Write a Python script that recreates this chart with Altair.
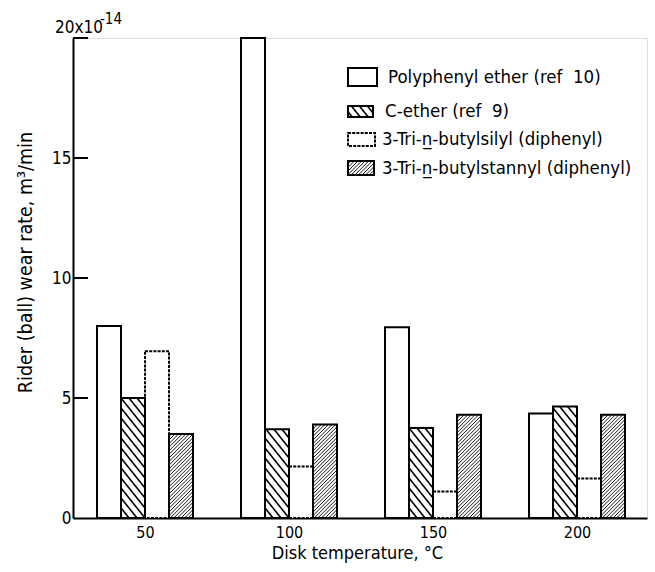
import altair as alt
import pandas as pd
import numpy as np

# ---------------- data ----------------
temps = [50, 100, 150, 200]
series = [
    "Polyphenyl ether (ref\u00a0\u00a010)",
    "C-ether (ref\u00a0\u00a09)",
    "3-Tri-n\u0332-butylsilyl (diphenyl)",
    "3-Tri-n\u0332-butylstannyl (diphenyl)",
]
ppe = [8.0, 20.0, 7.95, 4.35]
cether = [5.0, 3.7, 3.75, 4.65]
silyl = [6.95, 2.15, 1.1, 1.65]
stannyl = [3.5, 3.9, 4.3, 4.3]
y_ticks = [0, 5, 10, 15, 20]

# ---------------- layout / style ----------------
PLOT_W, PLOT_H = 574, 480
XMIN, XMAX = 25.0, 224.3
YMIN, YMAX = 0.0, 20.0
KX = PLOT_W / (XMAX - XMIN)   # px per degC
KY = PLOT_H / (YMAX - YMIN)   # px per unit
BAR_W = 24 / KX               # bar width in degC
FONT = "DejaVu Sans Condensed"
OX, OY = 73, 38  # plot origin on page

values = [ppe, cether, silyl, stannyl]
# hatch style per series: (direction, spacing px, slope)
hatch_style = {1: ("back", 10.0, 1.25), 3: ("fwd", 3.6, 1.0)}

rows = []
for k, s in enumerate(series):
    for i, t in enumerate(temps):
        x0 = t - 2 * BAR_W + k * BAR_W
        rows.append({"series": s, "k": k, "x0": x0, "x1": x0 + BAR_W,
                     "y0": 0.0, "y1": values[k][i]})
bars = pd.DataFrame(rows)


def hatch_segments(u0, u1, v0, v1, step, slope, direction):
    """Diagonal lines clipped to a rectangle, in pixel-equivalent units."""
    segs = []
    if direction == "back":   # v = c - m u
        cmin, cmax = v0 + slope * u0, v1 + slope * u1
        c = np.floor(cmin / step) * step
        while c <= cmax:
            ua = max(u0, (c - v1) / slope)
            ub = min(u1, (c - v0) / slope)
            if ub > ua:
                segs.append((ua, c - slope * ua, ub, c - slope * ub))
            c += step
    else:                     # v = c + m u
        cmin, cmax = v0 - slope * u1, v1 - slope * u0
        c = np.floor(cmin / step) * step
        while c <= cmax:
            ua = max(u0, (v0 - c) / slope)
            ub = min(u1, (v1 - c) / slope)
            if ub > ua:
                segs.append((ua, c + slope * ua, ub, c + slope * ub))
            c += step
    return segs


def from_u(u):
    return u / KX + XMIN


def from_v(v):
    return v / KY + YMIN


hrows = []
for _, r in bars.iterrows():
    if r["k"] in hatch_style:
        d, step, m = hatch_style[r["k"]]
        u0, u1 = (r["x0"] - XMIN) * KX, (r["x1"] - XMIN) * KX
        v0, v1 = (r["y0"] - YMIN) * KY, (r["y1"] - YMIN) * KY
        for (ua, va, ub, vb) in hatch_segments(u0, u1, v0, v1, step, m, d):
            hrows.append({"k": r["k"], "x0": from_u(ua), "y1": from_v(va),
                          "x1": from_u(ub), "y0": from_v(vb)})

# ---------------- legend (pixel layout converted into data space) ----------------
leg_rows_px = [77, 111, 139, 168]
leg_box = [(348, 377, 68, 86), (348, 373, 106, 117), (348, 375, 133, 146), (348, 374, 161, 175)]
leg_text_x = [388, 385, 382, 382]


def px_to_x(px):
    return from_u(px - OX)


def py_to_y(py):
    return from_v(PLOT_H - (py - OY))


lrows, ltext = [], []
for k, s in enumerate(series):
    bx0, bx1, by0, by1 = leg_box[k]
    lrows.append({"k": k, "x0": px_to_x(bx0), "x1": px_to_x(bx1),
                  "y0": py_to_y(by1), "y1": py_to_y(by0)})
    ltext.append({"series": s, "x0": px_to_x(leg_text_x[k]), "y1": py_to_y(leg_rows_px[k])})
    if k in hatch_style:
        d, step, m = hatch_style[k]
        u0, u1 = bx0 - OX, bx1 - OX
        v0, v1 = PLOT_H - (by1 - OY), PLOT_H - (by0 - OY)
        for (ua, va, ub, vb) in hatch_segments(u0, u1, v0, v1, step, m, d):
            hrows.append({"k": k, "x0": from_u(ua), "y1": from_v(va),
                          "x1": from_u(ub), "y0": from_v(vb)})
legend = pd.DataFrame(lrows)
legend_text = pd.DataFrame(ltext)
hatch = pd.DataFrame(hrows)

xscale = alt.Scale(domain=[XMIN, XMAX], nice=False, zero=False)
yscale = alt.Scale(domain=[YMIN, YMAX], nice=False, zero=True)

X = alt.X("x0:Q", scale=xscale,
          axis=alt.Axis(values=temps, title="Disk temperature, \u00b0C", ticks=False,
                        grid=False, labelPadding=6, labelFontSize=16,
                        titleFontSize=18, titleFontWeight="normal",
                        titlePadding=4, domainColor="black", domainWidth=2,
                        labelColor="black", titleColor="black",
                        labelFont=FONT, titleFont=FONT, titleX=284))
Y = alt.Y("y1:Q", scale=yscale,
          axis=alt.Axis(values=y_ticks, title="Rider (ball) wear rate,  m\u00b3/min",
                        ticks=False, grid=False, labelPadding=2, labelFontSize=17,
                        labelExpr="datum.value == 20 ? '' : datum.label",
                        titleFontSize=19.5, titleFontWeight="normal",
                        domainColor="black", domainWidth=2,
                        labelColor="black", titleColor="black",
                        labelFont=FONT, titleFont=FONT,
                        titleX=-48, titleY=224, titleBaseline="middle"))

fill_layer = alt.Chart(bars).mark_rect(fill="white").encode(
    x=X, x2="x1:Q", y=Y, y2="y0:Q")

leg_fill = alt.Chart(legend).mark_rect(fill="white").encode(
    x=X, x2="x1:Q", y=Y, y2="y0:Q")

hatch_layer = alt.Chart(hatch).mark_rule(color="black").encode(
    x=X, x2="x1:Q", y=Y, y2="y0:Q",
    strokeWidth=alt.StrokeWidth("k:N", scale=alt.Scale(domain=[1, 3], range=[1.6, 0.9]),
                                legend=None))

solid = alt.Chart(bars).transform_filter("datum.k != 2").mark_rect(
    fillOpacity=0, stroke="black", strokeWidth=2).encode(
    x=X, x2="x1:Q", y=Y, y2="y0:Q")

dashed = alt.Chart(bars).transform_filter("datum.k == 2").mark_rect(
    fillOpacity=0, stroke="black", strokeWidth=2, strokeDash=[3, 1.2]).encode(
    x=X, x2="x1:Q", y=Y, y2="y0:Q")

tick_layer = alt.Chart(pd.DataFrame({"y1": y_ticks[1:]})).mark_rule(
    color="black", strokeWidth=2).encode(
    y=Y, x=alt.value(0), x2=alt.value(15))

leg_solid = alt.Chart(legend).transform_filter("datum.k != 2").mark_rect(
    fillOpacity=0, stroke="black", strokeWidth=2).encode(
    x=X, x2="x1:Q", y=Y, y2="y0:Q")

leg_dashed = alt.Chart(legend).transform_filter("datum.k == 2").mark_rect(
    fillOpacity=0, stroke="black", strokeWidth=2, strokeDash=[3, 1.2]).encode(
    x=X, x2="x1:Q", y=Y, y2="y0:Q")

leg_text = alt.Chart(legend_text).mark_text(
    align="left", baseline="middle", font=FONT, fontSize=18.5, color="black").encode(
    x=X, y=Y, text="series:N")

top_label = alt.Chart(pd.DataFrame({"t": ["20x10"]})).mark_text(
    align="left", baseline="alphabetic", font=FONT, fontSize=17, color="black").encode(
    x=alt.value(-18), y=alt.value(-5), text="t:N")
top_exp = alt.Chart(pd.DataFrame({"t": ["-14"]})).mark_text(
    align="left", baseline="alphabetic", font=FONT, fontSize=15, color="black").encode(
    x=alt.value(27), y=alt.value(-14), text="t:N")

chart = alt.layer(
    fill_layer, leg_fill, hatch_layer, solid, dashed, tick_layer,
    leg_solid, leg_dashed, leg_text, top_label, top_exp
).properties(
    width=PLOT_W, height=PLOT_H,
    autosize=alt.AutoSizeParams(type="none"),
    padding={"left": OX, "top": OY, "right": 655 - OX - PLOT_W, "bottom": 572 - OY - PLOT_H},
).configure_view(strokeWidth=0).configure(background="white")

chart.save("out.html", embed_options={"renderer": "svg", "actions": False})
